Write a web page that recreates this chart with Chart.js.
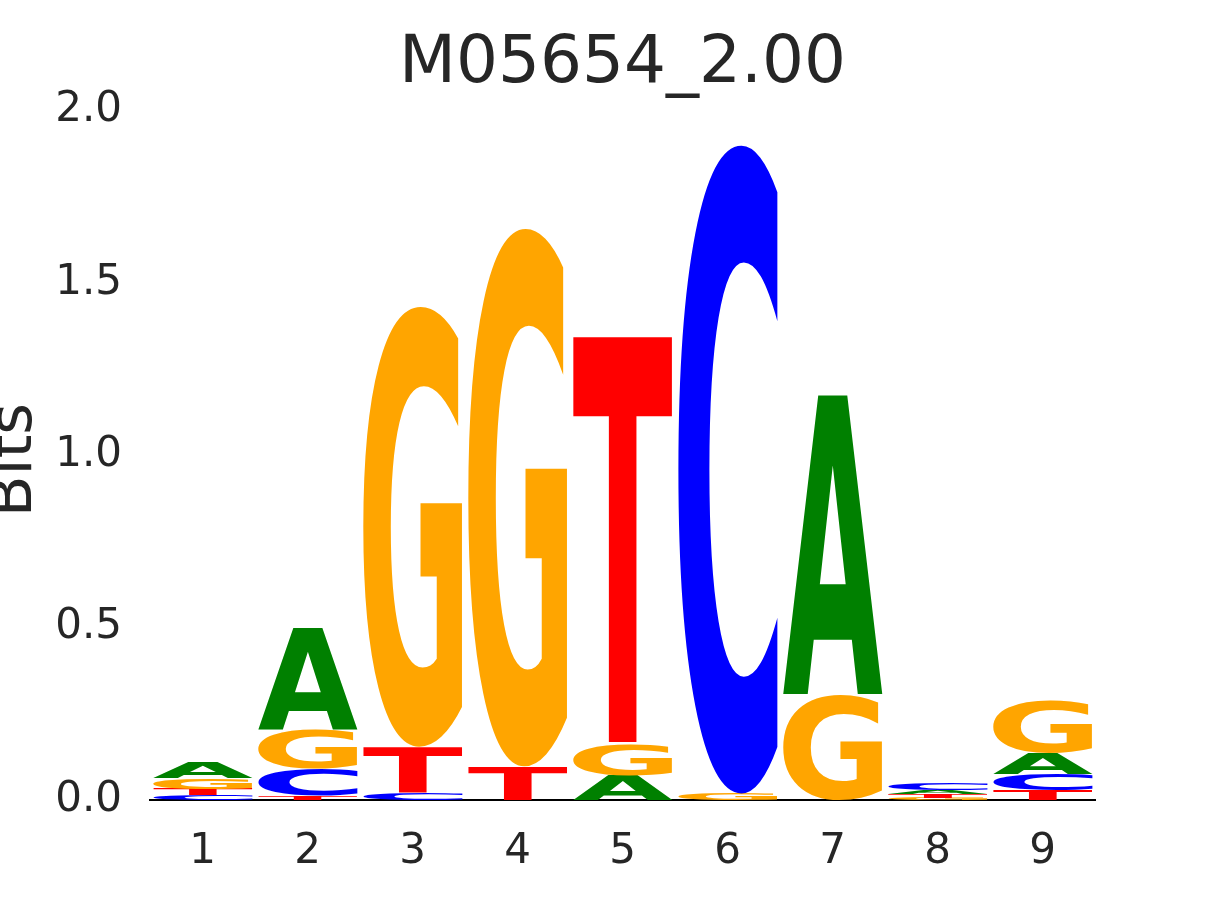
<!DOCTYPE html>
<html>
<head>
<meta charset="utf-8">
<script src="https://cdn.jsdelivr.net/npm/chart.js@4/dist/chart.umd.min.js"></script>
<style>
  html, body { margin: 0; padding: 0; background: #fff; }
  canvas { display: block; }
</style>
</head>
<body>
<canvas id="logo" width="1215" height="900"></canvas>
<script>
// positions of the motif
const positions = ['1', '2', '3', '4', '5', '6', '7', '8', '9'];

// information (bits) of each base per position
const bitsA = [0.043, 0.296, 0.000, 0.000, 0.070, 0.000, 0.867, 0.012, 0.060];
const bitsC = [0.015, 0.078, 0.020, 0.000, 0.000, 1.887, 0.000, 0.017, 0.046];
const bitsG = [0.032, 0.113, 1.281, 1.565, 0.090, 0.017, 0.307, 0.006, 0.154];
const bitsT = [0.017, 0.012, 0.133, 0.096, 1.183, 0.000, 0.000, 0.010, 0.029];

const yTicks = [0, 0.5, 1.0, 1.5, 2.0];

const baseColors = { A: '#008000', C: '#0000ff', G: '#ffa500', T: '#ff0000' };
const textColor = '#262626';
const fontFamily = '"DejaVu Sans", sans-serif';

// build stack layers: smallest letter at the bottom of each column
const bases = { A: bitsA, C: bitsC, G: bitsG, T: bitsT };
const layers = [[], [], [], []];
positions.forEach((p, i) => {
	const col = Object.keys(bases)
		.map(b => ({ letter: b, value: bases[b][i] }))
		.sort((a, b) => a.value - b.value);
	col.forEach((item, k) => layers[k].push(item));
});

const datasets = layers.map((layer, k) => ({
	label: 'layer ' + k,
	data: layer.map(it => it.value),
	letters: layer.map(it => it.letter),
	backgroundColor: 'rgba(0,0,0,0)',
	borderWidth: 0,
	barPercentage: 0.95,
	categoryPercentage: 1.0,
	stack: 'logo'
}));

// draws each stacked bar as a stretched letter glyph
const glyphPlugin = {
	id: 'glyphs',
	afterDatasetsDraw(chart) {
		const ctx = chart.ctx;
		chart.data.datasets.forEach((ds, di) => {
			const meta = chart.getDatasetMeta(di);
			meta.data.forEach((bar, i) => {
				if (!(ds.data[i] > 0)) return;
				const letter = ds.letters[i];
				const p = bar.getProps(['x', 'y', 'base', 'width'], true);
				const left = p.x - p.width / 2;
				const top = Math.min(p.y, p.base);
				const h = Math.abs(p.base - p.y);
				ctx.save();
				ctx.font = 'bold 200px ' + fontFamily;
				ctx.textAlign = 'left';
				ctx.textBaseline = 'alphabetic';
				const m = ctx.measureText(letter);
				const gw = m.actualBoundingBoxLeft + m.actualBoundingBoxRight;
				const gh = m.actualBoundingBoxAscent + m.actualBoundingBoxDescent;
				ctx.translate(left, top);
				ctx.scale(p.width / gw, h / gh);
				ctx.fillStyle = baseColors[letter];
				ctx.fillText(letter, m.actualBoundingBoxLeft, m.actualBoundingBoxAscent);
				ctx.restore();
			});
		});
	}
};

// y axis label, partly cut by the left edge like the original
const yLabelPlugin = {
	id: 'yLabel',
	afterDraw(chart) {
		const ctx = chart.ctx;
		const area = chart.chartArea;
		ctx.save();
		ctx.translate(31, (area.top + area.bottom) / 2 + 5);
		ctx.rotate(-Math.PI / 2);
		ctx.font = '61px ' + fontFamily;
		ctx.fillStyle = textColor;
		ctx.textAlign = 'center';
		ctx.textBaseline = 'alphabetic';
		ctx.fillText('Bits', 0, 0);
		ctx.restore();
	}
};

new Chart(document.getElementById('logo'), {
	type: 'bar',
	data: { labels: positions, datasets: datasets },
	options: {
		responsive: false,
		animation: false,
		devicePixelRatio: 1,
		layout: { padding: { left: 0, right: 120, top: 0, bottom: 0 } },
		plugins: {
			legend: { display: false },
			tooltip: { enabled: false },
			title: {
				display: true,
				fullSize: false,
				text: 'M05654_2.00',
				color: textColor,
				font: { family: fontFamily, size: 66, weight: 'normal', lineHeight: 1.2 },
				padding: { top: 25, bottom: 6 }
			}
		},
		scales: {
			x: {
				stacked: true,
				grid: { display: false },
				border: { display: true, color: '#000', width: 2 },
				ticks: {
					color: textColor,
					font: { family: fontFamily, size: 42 },
					padding: 19,
					maxRotation: 0
				},
				afterFit(scale) { scale.height = 100; }
			},
			y: {
				stacked: true,
				min: 0,
				max: 2.0,
				grid: { display: false },
				border: { display: false },
				afterBuildTicks(scale) { scale.ticks = yTicks.map(v => ({ value: v })); },
				ticks: {
					color: textColor,
					font: { family: fontFamily, size: 42 },
					padding: 20,
					callback: v => Number(v).toFixed(1)
				},
				afterFit(scale) { scale.width = 150; }
			}
		}
	},
	plugins: [glyphPlugin, yLabelPlugin]
});
</script>
</body>
</html>
